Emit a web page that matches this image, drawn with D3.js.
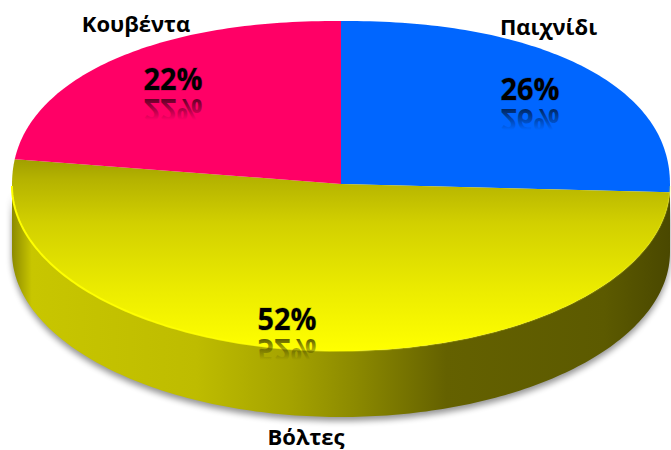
<!DOCTYPE html>
<html><head><meta charset="utf-8">
<style>html,body{margin:0;padding:0;background:#fff}svg{display:block}text{font-family:"Open Sans",sans-serif;font-weight:700}</style>
<script src="https://cdn.jsdelivr.net/npm/d3@7"></script>
</head><body><svg id="c" width="671" height="450"></svg>
<script>
const categories = ["Παιχνίδι", "Βόλτες", "Κουβέντα"];
const values = [26, 52, 22];
const labels = ["26%", "52%", "22%"];
const colors = ["#0066ff", "url(#topY)", "#ff0066"];

const cx = 341, cy = 186, rx = 329, ry = 165, depth = 66, apexY = 184, tilt = 0.4, n = 2.2;
const pctPos = [[530, 100], [287, 330], [173, 90]];
const catPos = [[548.5, 35], [306, 445], [136, 32]];
const svg = d3.select("#c");
const defs = svg.append("defs");

function grad(id, x1, y1, x2, y2, stops) {
  const g = defs.append("linearGradient").attr("id", id).attr("gradientUnits", "userSpaceOnUse")
    .attr("x1", x1).attr("y1", y1).attr("x2", x2).attr("y2", y2);
  stops.forEach(s => g.append("stop").attr("offset", s[0]).attr("stop-color", s[1]).attr("stop-opacity", s[2] === undefined ? 1 : s[2]));
}
grad("topY", 0, 155, 0, 350, [[0, "#9c9a00"], [0.12, "#b4b200"], [0.35, "#d2d000"], [0.7, "#ecec00"], [1, "#ffff00"]]);
grad("wall", 12, 0, 670, 0, [[0, "#8c8a00"], [0.03, "#c8c600"], [0.28, "#bebc00"], [0.42, "#a5a300"], [0.52, "#8c8a00"], [0.66, "#646100"], [0.9, "#5c5a00"], [1, "#4a4800"]]);
grad("edge", 12, 0, 670, 0, [[0, "#ffff00"], [0.38, "#ffff00", 0.85], [0.55, "#ffff00", 0.25], [1, "#ffff00", 0.2]]);
grad("refl", 0, 0, 0, -21, [[0, "#000", 0.62], [1, "#000", 0]]);

const f = defs.append("filter").attr("id", "blur").attr("x", "-5%").attr("y", "-5%").attr("width", "110%").attr("height", "115%");
f.append("feGaussianBlur").attr("stdDeviation", 3);
const soft = defs.append("filter").attr("id", "soft");
soft.append("feGaussianBlur").attr("stdDeviation", 0.5);

// outline of the disc: fuller-shouldered upper half, elliptical lower half
const steps = d3.range(0, 361, 1).map(d => d * Math.PI / 180);
const pw = (v, p) => Math.sign(v) * Math.pow(Math.abs(v), p);
const upper = t => [cx + rx * pw(Math.sin(t), 2 / n), cy - ry * pw(Math.cos(t), 2 / n)];
const lower = t => [cx + rx * Math.sin(t), cy - ry * Math.cos(t)];
const onRim = t => Math.cos(t) >= 0 ? upper(t) : lower(t);
const line = d3.line();
const outline = line(steps.map(onRim)) + "Z";
const lowerHalf = d3.range(270, 89, -1).map(d => lower(d * Math.PI / 180));
const wallPath = line(lowerHalf.concat(lowerHalf.slice().reverse().map(p => [p[0], p[1] + depth]))) + "Z";

defs.append("clipPath").attr("id", "disc").append("path").attr("d", outline);

// soft shadow, side wall
svg.append("path").attr("d", wallPath).attr("fill", "#000").attr("opacity", 0.42)
  .attr("transform", "translate(0,4)").attr("filter", "url(#blur)");
svg.append("path").attr("d", wallPath).attr("fill", "url(#wall)");

// wedges: rays from the apex, squashed by the tilt, clipped to the disc
const pie = d3.pie().sort(null).value(d => d)(values);
const R = 1200;
const ray = a => [cx + R * Math.sin(a), apexY - R * tilt * Math.cos(a)];
const discTop = svg.append("g").attr("clip-path", "url(#disc)");
discTop.selectAll("path").data(pie).join("path")
  .attr("d", d => {
    const k = d3.scaleLinear().domain([0, 40]).range([d.startAngle, d.endAngle]);
    return line([[cx, apexY]].concat(d3.range(0, 41).map(i => ray(k(i))))) + "Z";
  })
  .attr("fill", (d, i) => colors[i]);

// bright rim on the front edge
svg.append("path").attr("d", line(lowerHalf)).attr("fill", "none")
  .attr("stroke", "url(#edge)").attr("stroke-width", 2).attr("filter", "url(#soft)");

// percentages and their reflections
labels.forEach((t, i) => {
  const [x, y] = pctPos[i];
  svg.append("text").attr("x", x).attr("y", y).attr("text-anchor", "middle")
    .attr("font-size", 31).attr("fill", "#000").attr("stroke", "#000").attr("stroke-opacity", 0.18)
    .attr("stroke-width", 1.4).attr("paint-order", "stroke")
    .attr("textLength", 59).attr("lengthAdjust", "spacingAndGlyphs").text(t);
  svg.append("text").attr("text-anchor", "middle")
    .attr("transform", `translate(${x},${y + 9}) scale(1,-1)`)
    .attr("font-size", 31).attr("textLength", 59).attr("lengthAdjust", "spacingAndGlyphs")
    .attr("fill", "url(#refl)").text(t);
});

// category labels
categories.forEach((t, i) => {
  svg.append("text").attr("x", catPos[i][0]).attr("y", catPos[i][1]).attr("text-anchor", "middle")
    .attr("font-size", 22).attr("fill", "#000").text(t);
});
</script></body></html>
